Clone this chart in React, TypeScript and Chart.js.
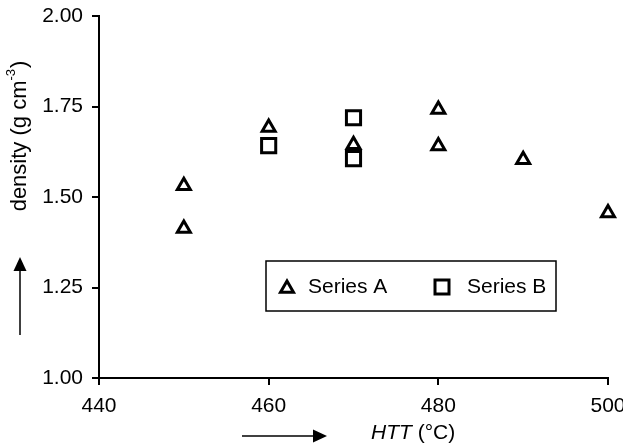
import { useEffect, useRef } from 'react';
import { Chart, registerables } from 'chart.js';

Chart.register(...registerables);

const seriesAX = [450, 450, 460, 470, 480, 480, 490, 500];
const seriesAY = [1.531, 1.413, 1.692, 1.644, 1.742, 1.641, 1.603, 1.456];
const seriesBX = [460, 470, 470];
const seriesBY = [1.642, 1.719, 1.606];
const xTicks = [440, 460, 480, 500];
const yTicks = [1.0, 1.25, 1.5, 1.75, 2.0];
const legendLabels = ['Series A', 'Series B'];
const yTitle = ['density (g cm', '-3', ')'];
const xTitle = ['HTT', ' (°C)'];

const FONT = '"Liberation Sans", Arial, Helvetica, sans-serif';

function drawTriangle(ctx: CanvasRenderingContext2D, x: number, y: number, r: number) {
  ctx.beginPath();
  for (let i = 0; i < 3; i++) {
    const a = (i * 2 * Math.PI) / 3;
    const px = x + Math.sin(a) * r;
    const py = y - Math.cos(a) * r;
    if (i === 0) ctx.moveTo(px, py);
    else ctx.lineTo(px, py);
  }
  ctx.closePath();
  ctx.stroke();
}

const decorPlugin = {
  id: 'decor',
  afterDraw(chart: any) {
    const ctx: CanvasRenderingContext2D = chart.ctx;
    const ca = chart.chartArea;
    ctx.save();
    ctx.fillStyle = '#000';
    ctx.strokeStyle = '#000';

    // Y title (rotated, with superscript)
    ctx.save();
    ctx.translate(20, 136);
    ctx.rotate(-Math.PI / 2);
    ctx.textBaseline = 'middle';
    ctx.textAlign = 'left';
    const big = `22px ${FONT}`;
    const small = `13px ${FONT}`;
    ctx.font = big;
    const w1 = ctx.measureText(yTitle[0]).width;
    const w3 = ctx.measureText(yTitle[2]).width;
    ctx.font = small;
    const w2 = ctx.measureText(yTitle[1]).width;
    const total = w1 + w2 + w3 + 1;
    let cx = -total / 2;
    ctx.font = big;
    ctx.fillText(yTitle[0], cx, 0);
    cx += w1;
    ctx.font = small;
    ctx.fillText(yTitle[1], cx, -9);
    cx += w2 + 1;
    ctx.font = big;
    ctx.fillText(yTitle[2], cx, 0);
    ctx.restore();

    // X title
    ctx.textBaseline = 'middle';
    ctx.textAlign = 'left';
    ctx.font = `italic 21px ${FONT}`;
    const xw = ctx.measureText(xTitle[0]).width;
    ctx.fillText(xTitle[0], 371, 433);
    ctx.font = `21px ${FONT}`;
    ctx.fillText(xTitle[1], 371 + xw, 433);

    // Arrows
    ctx.lineWidth = 1.5;
    ctx.beginPath();
    ctx.moveTo(20, 335);
    ctx.lineTo(20, 268);
    ctx.stroke();
    ctx.beginPath();
    ctx.moveTo(20, 257);
    ctx.lineTo(13.5, 271);
    ctx.lineTo(26.5, 271);
    ctx.closePath();
    ctx.fill();

    ctx.beginPath();
    ctx.moveTo(242, 436);
    ctx.lineTo(315, 436);
    ctx.stroke();
    ctx.beginPath();
    ctx.moveTo(327, 436);
    ctx.lineTo(313, 429.5);
    ctx.lineTo(313, 442.5);
    ctx.closePath();
    ctx.fill();

    // Legend box
    const bx = ca.left + 167;
    const by = ca.top + 245;
    ctx.lineWidth = 1.5;
    ctx.strokeRect(bx, by, 290, 50);
    const my = by + 26;
    ctx.lineWidth = 3;
    drawTriangle(ctx, bx + 21, my + 1.5, 7.5);
    const s = 7;
    ctx.strokeRect(bx + 176 - s, my - s, 2 * s, 2 * s);
    ctx.font = `21px ${FONT}`;
    ctx.textBaseline = 'middle';
    ctx.fillText(legendLabels[0], bx + 42, my);
    ctx.fillText(legendLabels[1], bx + 201, my);

    ctx.restore();
  },
};

export default function App() {
  const ref = useRef<HTMLCanvasElement | null>(null);

  useEffect(() => {
    document.body.style.margin = '0';
    const canvas = ref.current;
    if (!canvas) return;
    const tickFont = { family: FONT, size: 21 };
    const chart = new Chart(canvas, {
      type: 'scatter',
      data: {
        datasets: [
          {
            label: legendLabels[0],
            data: seriesAX.map((x, i) => ({ x, y: seriesAY[i] })),
            pointStyle: 'triangle',
            pointRadius: 7.5,
            pointBorderWidth: 3,
            pointBorderColor: '#000',
            pointBackgroundColor: 'rgba(0,0,0,0)',
            clip: false as any,
          },
          {
            label: legendLabels[1],
            data: seriesBX.map((x, i) => ({ x, y: seriesBY[i] })),
            pointStyle: 'rect',
            pointRadius: 10,
            pointBorderWidth: 3,
            pointBorderColor: '#000',
            pointBackgroundColor: 'rgba(0,0,0,0)',
            clip: false as any,
          },
        ],
      },
      options: {
        animation: false,
        responsive: false,
        devicePixelRatio: 1,
        layout: { padding: { top: 16, right: 15, left: 0, bottom: 0 } },
        plugins: {
          legend: { display: false },
          tooltip: { enabled: false },
        },
        scales: {
          x: {
            type: 'linear',
            min: 440,
            max: 500,
            afterBuildTicks: (s: any) => {
              s.ticks = xTicks.map((v) => ({ value: v }));
            },
            afterFit: (s: any) => {
              s.height = 69;
              s.paddingLeft = 0;
              s.paddingRight = 0;
            },
            ticks: {
              font: tickFont,
              color: '#000',
              padding: 9,
              maxRotation: 0,
              callback: (v: any) => String(v),
            },
            grid: {
              display: true,
              drawOnChartArea: false,
              drawTicks: true,
              tickLength: 7,
              color: '#000',
              lineWidth: 2,
            },
            border: { display: true, color: '#000', width: 2 },
          },
          y: {
            type: 'linear',
            min: 1,
            max: 2,
            afterBuildTicks: (s: any) => {
              s.ticks = yTicks.map((v) => ({ value: v }));
            },
            afterFit: (s: any) => {
              s.width = 99;
              s.paddingTop = 0;
              s.paddingBottom = 0;
            },
            ticks: {
              font: tickFont,
              color: '#000',
              padding: 9,
              callback: (v: any) => Number(v).toFixed(2),
            },
            grid: {
              display: true,
              drawOnChartArea: false,
              drawTicks: true,
              tickLength: 7,
              color: '#000',
              lineWidth: 2,
            },
            border: { display: true, color: '#000', width: 2 },
          },
        },
      },
      plugins: [decorPlugin],
    });
    return () => chart.destroy();
  }, []);

  return <canvas ref={ref} width={623} height={447} style={{ display: 'block', width: 623, height: 447 }} />;
}
